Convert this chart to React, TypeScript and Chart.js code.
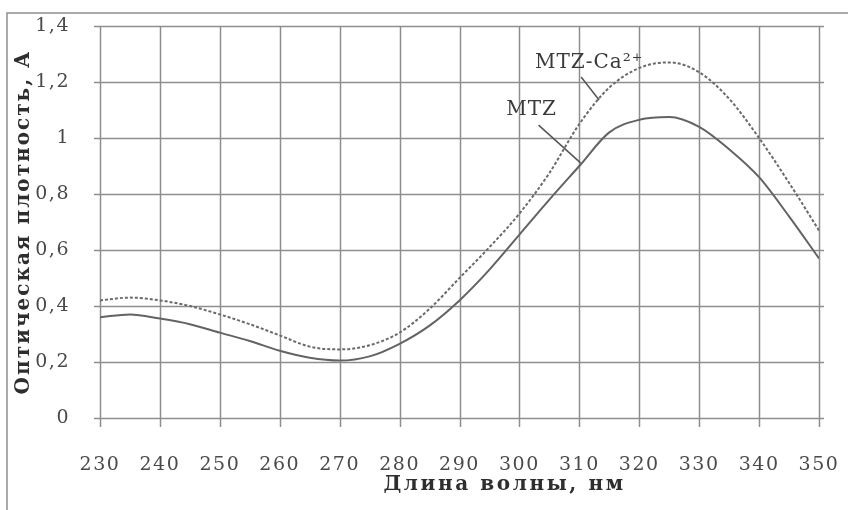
import React, { useEffect, useRef } from 'react';
import { Chart, registerables } from 'chart.js';

Chart.register(...registerables);

// Wavelength, nm
const wavelengths = [230, 235, 240, 245, 250, 255, 260, 265, 270, 275, 280, 285, 290, 295, 300, 305, 310, 315, 320, 325, 330, 335, 340, 345, 350];
// Optical density, MTZ (solid)
const mtzValues = [0.36, 0.37, 0.355, 0.335, 0.305, 0.275, 0.24, 0.215, 0.205, 0.22, 0.265, 0.33, 0.42, 0.53, 0.655, 0.78, 0.9, 1.02, 1.065, 1.075, 1.04, 0.96, 0.86, 0.72, 0.57];
// Optical density, MTZ-Ca2+ (dotted)
const mtzCaValues = [0.42, 0.43, 0.42, 0.4, 0.37, 0.335, 0.295, 0.255, 0.245, 0.26, 0.305, 0.39, 0.5, 0.61, 0.73, 0.875, 1.05, 1.18, 1.25, 1.27, 1.235, 1.14, 1.0, 0.84, 0.67];

const seriesNames = ['MTZ', 'MTZ-Ca²⁺'];
const xTitle = 'Длина волны, нм';
const yTitle = 'Оптическая плотность, А';

const xMin = 230;
const xMax = 350;
const xStep = 10;
const yMin = 0;
const yMax = 1.4;
const yStep = 0.2;

// Callout labels (data units): text anchor and leader line ends
const calloutTexts = ['MTZ-Ca²⁺', 'MTZ'];
const calloutTextX = [302.6, 297.8];
const calloutTextY = [1.268, 1.1];
const leaderFromX = [310.3, 303.2];
const leaderFromY = [1.218, 1.046];
const leaderToX = [313.3, 310.2];
const leaderToY = [1.136, 0.911];

const SERIF = '"DejaVu Serif", "Liberation Serif", serif';
const GRID = '#8e8e8e';

const fmtY = (v: number) => {
  const r = Math.round(v * 10) / 10;
  return String(r).replace('.', ',');
};

const decorPlugin = {
  id: 'decor',
  beforeDraw(chart: any) {
    const ctx = chart.ctx as CanvasRenderingContext2D;
    ctx.save();
    ctx.fillStyle = '#ffffff';
    ctx.fillRect(0, 0, chart.width, chart.height);
    ctx.strokeStyle = GRID;
    ctx.lineWidth = 1.5;
    ctx.beginPath();
    ctx.moveTo(7, chart.height);
    ctx.lineTo(7, 13);
    ctx.lineTo(chart.width, 13);
    ctx.stroke();
    ctx.restore();
    (ctx as any).letterSpacing = '1.5px';
  },
  beforeDatasetsDraw(chart: any) {
    const ctx = chart.ctx as CanvasRenderingContext2D;
    const { chartArea } = chart;
    const xs = chart.scales.x;
    const ys = chart.scales.y;
    ctx.save();
    (ctx as any).letterSpacing = '0px';
    ctx.strokeStyle = GRID;
    ctx.lineWidth = 1.5;
    ys.ticks.forEach((t: any) => {
      const py = Math.round(ys.getPixelForValue(t.value)) + 0.5;
      ctx.beginPath();
      ctx.moveTo(chartArea.left - 6, py);
      ctx.lineTo(chartArea.right + 5, py);
      ctx.stroke();
    });
    xs.ticks.forEach((t: any) => {
      const px = Math.round(xs.getPixelForValue(t.value)) + 0.5;
      ctx.beginPath();
      ctx.moveTo(px, chartArea.top);
      ctx.lineTo(px, chartArea.bottom + 9);
      ctx.stroke();
    });
    ctx.restore();
  },
  afterDraw(chart: any) {
    const ctx = chart.ctx as CanvasRenderingContext2D;
    (ctx as any).letterSpacing = '0px';
    const { chartArea } = chart;
    const xs = chart.scales.x;
    const ys = chart.scales.y;
    ctx.save();
    // leader lines
    ctx.strokeStyle = '#555';
    ctx.lineWidth = 1.5;
    for (let i = 0; i < leaderFromX.length; i++) {
      ctx.beginPath();
      ctx.moveTo(xs.getPixelForValue(leaderFromX[i]), ys.getPixelForValue(leaderFromY[i]));
      ctx.lineTo(xs.getPixelForValue(leaderToX[i]), ys.getPixelForValue(leaderToY[i]));
      ctx.stroke();
    }
    // callout texts
    ctx.fillStyle = '#3a3a3a';
    ctx.font = `20px ${SERIF}`;
    ctx.textAlign = 'left';
    ctx.textBaseline = 'middle';
    (ctx as any).letterSpacing = '1px';
    for (let i = 0; i < calloutTexts.length; i++) {
      ctx.fillText(calloutTexts[i], xs.getPixelForValue(calloutTextX[i]), ys.getPixelForValue(calloutTextY[i]));
    }
    // axis titles
    ctx.fillStyle = '#2e2e2e';
    ctx.font = `bold 20px ${SERIF}`;
    ctx.textAlign = 'center';
    ctx.textBaseline = 'middle';
    (ctx as any).letterSpacing = '2.6px';
    ctx.fillText(xTitle, (chartArea.left + chartArea.right) / 2 + 45, chartArea.bottom + 67);
    (ctx as any).letterSpacing = '2px';
    ctx.save();
    ctx.translate(24, (chartArea.top + chartArea.bottom) / 2);
    ctx.rotate(-Math.PI / 2);
    ctx.fillText(yTitle, 0, 0);
    ctx.restore();
    ctx.restore();
    (ctx as any).letterSpacing = '0px';
  },
};

function App() {
  const ref = useRef<HTMLCanvasElement | null>(null);
  useEffect(() => {
    if (!ref.current) return;
    const chart = new Chart(ref.current, {
      type: 'line',
      data: {
        datasets: [
          {
            label: seriesNames[0],
            data: wavelengths.map((x, i) => ({ x, y: mtzValues[i] })),
            borderColor: '#636363',
            borderWidth: 2,
            pointRadius: 0,
            cubicInterpolationMode: 'monotone',
            fill: false,
          },
          {
            label: seriesNames[1],
            data: wavelengths.map((x, i) => ({ x, y: mtzCaValues[i] })),
            borderColor: '#6a6a6a',
            borderWidth: 2,
            borderDash: [3, 2],
            pointRadius: 0,
            cubicInterpolationMode: 'monotone',
            fill: false,
          },
        ],
      },
      options: {
        responsive: false,
        animation: false,
        layout: { padding: { left: 0, top: 26, right: 29, bottom: 0 } },
        plugins: {
          legend: { display: false },
          tooltip: { enabled: false },
        },
        scales: {
          x: {
            type: 'linear',
            min: xMin,
            max: xMax,
            afterFit: (s: any) => {
              s.height = 92;
              s.paddingLeft = 0;
              s.paddingRight = 0;
            },
            ticks: {
              stepSize: xStep,
              padding: 28,
              color: '#4a4a4a',
              font: { family: SERIF, size: 19 },
              maxRotation: 0,
            },
            grid: { display: false },
            border: { display: false },
          },
          y: {
            type: 'linear',
            min: yMin,
            max: yMax,
            afterFit: (s: any) => {
              s.width = 100;
              s.paddingTop = 0;
              s.paddingBottom = 0;
            },
            ticks: {
              stepSize: yStep,
              padding: 22,
              color: '#4a4a4a',
              font: { family: SERIF, size: 19 },
              callback: (v: any) => fmtY(Number(v)),
            },
            grid: { display: false },
            border: { display: false },
          },
        },
      },
      plugins: [decorPlugin],
    } as any);
    return () => chart.destroy();
  }, []);
  return (
    <div style={{ position: 'absolute', left: 0, top: 0, width: 848, height: 510, background: '#fff' }}>
      <canvas ref={ref} width={848} height={510} style={{ display: 'block' }} />
    </div>
  );
}

export default App;
